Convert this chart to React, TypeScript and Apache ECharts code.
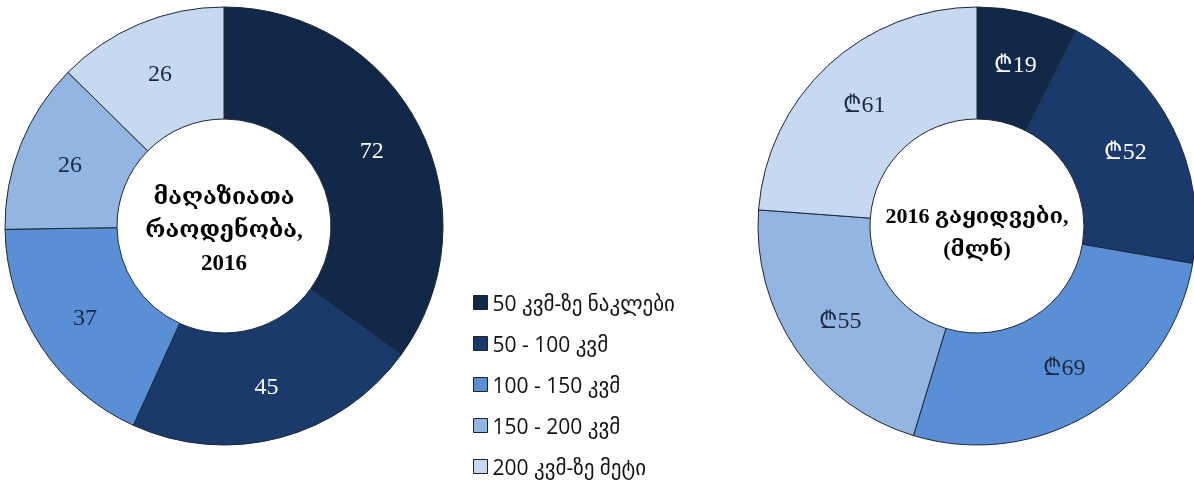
import React, { useEffect, useRef } from "react";
import * as echarts from "echarts";

const categories = ["50 კვმ-ზე ნაკლები", "50 - 100 კვმ", "100 - 150 კვმ", "150 - 200 კვმ", "200 კვმ-ზე მეტი"];
const storeCounts = [72, 45, 37, 26, 26];
const sales = [19, 52, 69, 55, 61];
const colors = ["#112849", "#1a3a6b", "#5a8fd6", "#93b5e1", "#c7d9f0"];
const labelColors = ["#ffffff", "#ffffff", "#1b2a44", "#1b2a44", "#1b2a44"];
const leftTitle = "მაღაზიათა\nრაოდენობა,\n2016";
const rightTitle = "2016 გაყიდვები,\n(მლნ)";

const serif = "'Liberation Serif', 'DejaVu Serif', serif";
const sans = "'Open Sans', 'DejaVu Sans', sans-serif";

export default function App() {
  const ref = useRef<HTMLDivElement>(null);
  useEffect(() => {
    if (!ref.current) return;
    const chart = echarts.init(ref.current, undefined, { renderer: "svg" });
    const mk = (vals: number[], prefix: string) =>
      categories.map((name, i) => ({
        name,
        value: vals[i],
        itemStyle: { color: colors[i] },
        label: { color: labelColors[i], formatter: prefix + "{c}", fontSize: 24, fontFamily: serif },
      }));
    const common = {
      type: "pie",
      radius: [107, 219],
      startAngle: 90,
      clockwise: true,
      avoidLabelOverlap: false,
      itemStyle: { borderColor: "#1c2638", borderWidth: 1 },
      label: { show: true, position: "inside", fontFamily: serif, fontSize: 24 },
      labelLine: { show: false },
      emphasis: { disabled: true },
    };
    chart.setOption({
      animation: false,
      legend: {
        orient: "vertical",
        left: 468,
        top: 287,
        itemWidth: 14,
        itemHeight: 14,
        itemGap: 20,
        icon: "rect",
        itemStyle: { borderColor: "#222222", borderWidth: 1 },
        textStyle: { fontFamily: sans, fontSize: 21, color: "#111111" },
        data: categories,
      },
      series: [
        { ...common, name: "left", center: [224, 226], data: mk(storeCounts, "") },
        { ...common, name: "right", center: [977, 226], data: mk(sales, "₾") },
      ],
      graphic: [
        {
          type: "text",
          x: 224,
          y: 229,
          style: {
            text: leftTitle,
            align: "center",
            verticalAlign: "middle",
            font: `bold 23px ${serif}`,
            lineHeight: 33,
            fill: "#000",
          },
        },
        {
          type: "text",
          x: 977,
          y: 232,
          style: {
            text: rightTitle,
            align: "center",
            verticalAlign: "middle",
            font: `bold 22px ${serif}`,
            lineHeight: 33,
            fill: "#000",
          },
        },
      ],
    });
    return () => chart.dispose();
  }, []);
  return <div ref={ref} style={{ position: "fixed", left: 0, top: 0, width: 1194, height: 486 }} />;
}
